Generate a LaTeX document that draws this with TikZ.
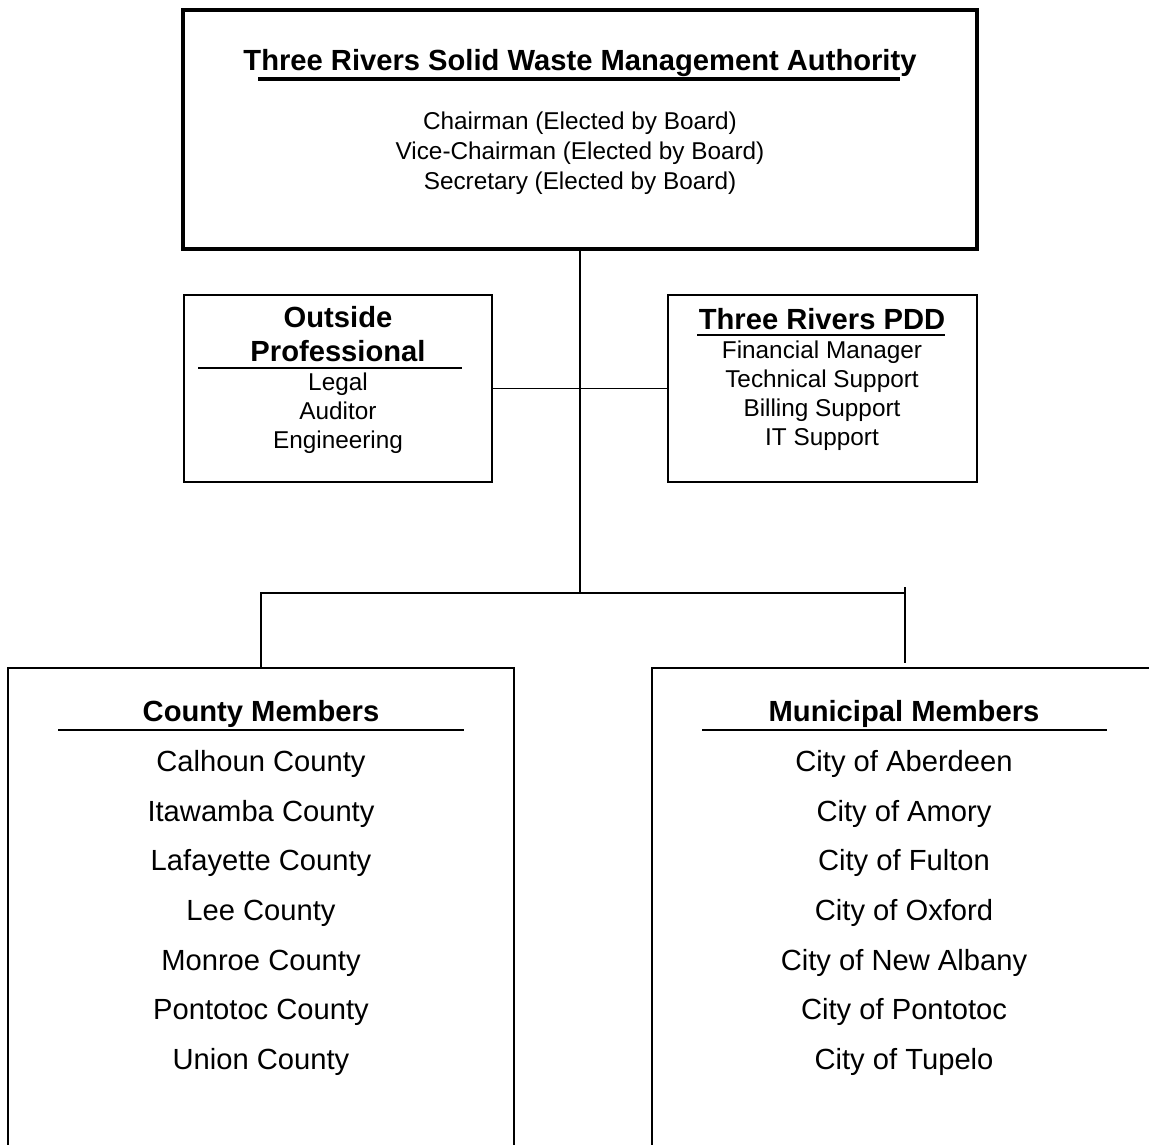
\documentclass[tikz,border=0pt]{standalone}
\usepackage{fontspec}
\setmainfont{Liberation Sans}
\usepackage{tikz}
\usetikzlibrary{positioning}
\newcommand{\lgfont}{\fontsize{16.6}{19.3}\selectfont}
\newcommand{\smfont}{\fontsize{13.85}{16.5}\selectfont}

\begin{document}
\begin{tikzpicture}[x=0.02cm, y=-0.02cm,
    box/.style={draw, line width=0.85pt, inner sep=0pt},
    head/.style={font=\bfseries\lgfont, align=center},
    staff/.style={font=\smfont, align=center},
    members/.style={font=\fontsize{16.6}{28.3}\selectfont, align=center},
    link/.style={line width=0.85pt}]

      \clip (0,0) rectangle (1149,1145);

      \node [box, line width=2.3pt, minimum width=15.87cm, minimum height=4.78cm]
        (authority) at (580,129.5) {};
      \node [head] (title) at (580,63) {Three Rivers Solid Waste Management Authority};
      \coordinate (titleL) at (258,79);
      \coordinate (titleR) at (900,79);
      \draw [line width=1.9pt] (titleL) -- (titleR);
      \node [staff, font=\fontsize{13.85}{17.07}\selectfont] (officers) at (580,153.5)
        {Chairman (Elected by Board)\\Vice-Chairman (Elected by Board)\\Secretary (Elected by Board)};

      \node [box, minimum width=6.16cm, minimum height=3.74cm] (outside) at (338,388.5) {};
      \node [head] (outsidehead) at (338,334.5) {Outside\\Professional};
      \coordinate (outsideL) at (198,368);
      \coordinate (outsideR) at (462,368);
      \draw [link] (outsideL) -- (outsideR);
      \node [staff] (outsidelist) at (338,413.5) {Legal\\Auditor\\Engineering};

      \node [box, minimum width=6.18cm, minimum height=3.74cm] (pdd) at (822.5,388.5) {};
      \node [head] (pddhead) at (822,319) {Three Rivers PDD};
      \coordinate (pddL) at (697,335);
      \coordinate (pddR) at (945,335);
      \draw [link] (pddL) -- (pddR);
      \node [staff] (pddlist) at (822,396)
        {Financial Manager\\Technical Support\\Billing Support\\IT Support};

      \node [box, minimum width=10.12cm, minimum height=10.64cm] (county) at (261,934) {};
      \node [head] (countyhead) at (261,714) {County Members};
      \coordinate (countyL) at (58,730);
      \coordinate (countyR) at (464,730);
      \draw [link] (countyL) -- (countyR);
      \node [members] (countylist) at (261,913)
        {Calhoun County\\Itawamba County\\Lafayette County\\Lee County\\Monroe County\\Pontotoc County\\Union County};

      \node [box, minimum width=10.08cm, minimum height=10.64cm] (city) at (904,934) {};
      \node [head] (cityhead) at (904,714) {Municipal Members};
      \coordinate (cityL) at (702,730);
      \coordinate (cityR) at (1107,730);
      \draw [link] (cityL) -- (cityR);
      \node [members] (citylist) at (904,913)
        {City of Aberdeen\\City of Amory\\City of Fulton\\City of Oxford\\City of New Albany\\City of Pontotoc\\City of Tupelo};

      \coordinate (trunk) at (580,593);
      \coordinate (cityjoin) at (905,593);
      \coordinate (citytop) at (905,587);
      \coordinate (cityfoot) at (905,663);
      \draw [link] (authority) -- (trunk);
      \draw [link] (outside) -- (pdd);
      \draw [link] (trunk) -| (county);
      \draw [link] (trunk) -- (cityjoin);
      \draw [link] (citytop) -- (cityfoot);

    \end{tikzpicture}
\end{document}
